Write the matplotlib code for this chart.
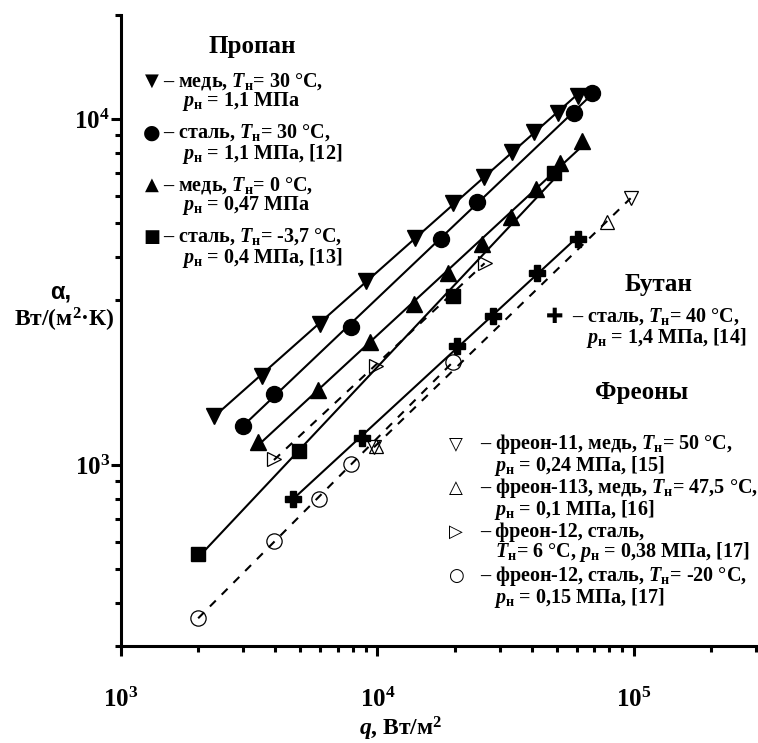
import numpy as np
import matplotlib.pyplot as plt
from matplotlib.ticker import FixedLocator, FixedFormatter, NullFormatter

plt.rcParams['font.family'] = ['Liberation Serif', 'DejaVu Sans']
plt.rcParams['font.weight'] = 'bold'
plt.rcParams['mathtext.fontset'] = 'custom'
plt.rcParams['mathtext.rm'] = 'Liberation Serif:bold'
plt.rcParams['mathtext.it'] = 'Liberation Serif:italic:bold'
plt.rcParams['mathtext.bf'] = 'Liberation Serif:bold'

# пропан, медь, Tн = 30 °C
q_cu30 = [2300, 3550, 6000, 9000, 14000, 19700, 26000, 33500, 41000, 50500, 60500]
a_cu30 = [1385, 1815, 2550, 3410, 4540, 5730, 6800, 8030, 9170, 10400, 11700]
# пропан, сталь, Tн = 30 °C
q_st30 = [3000, 3950, 7900, 17700, 24400, 58300, 68600]
a_st30 = [1300, 1610, 2500, 4510, 5760, 10400, 11900]
# пропан, медь, Tн = 0 °C
q_cu0 = [3420, 5860, 9350, 13900, 18800, 25500, 33100, 41500, 51400, 62700]
a_cu0 = [1170, 1650, 2270, 2930, 3600, 4360, 5220, 6280, 7470, 8640]
# пропан, сталь, Tн = -3,7 °C
q_st37 = [2000, 4950, 19700, 48700]
a_st37 = [553, 1095, 3090, 6990]
# бутан
q_but = [4690, 8700, 20400, 28200, 41900, 60500]
a_but = [800, 1200, 2210, 2700, 3600, 4510]
# фреоны
q_f11 = [9700, 97300]
a_f11 = [1130, 5920]
q_f113 = [9850, 78500]
a_f113 = [1135, 5050]
q_f12w = [3950, 9870, 26200]
a_f12w = [1040, 1930, 3850]
q_f12c = [2000, 3950, 5900, 7900, 19700]
a_f12c = [361, 603, 800, 1005, 1990]

W, H = 758, 743
fig = plt.figure(figsize=(W / 100, H / 100), dpi=100)
ax = fig.add_axes([121 / W, 1 - 646 / H, 635 / W, 631 / H])
ax.set_xscale('log')
ax.set_yscale('log')
ax.set_xlim(1e3, 3e5)
ax.set_ylim(300, 2e4)


def fit_line(q, a, ls):
    lq, la = np.log10(q), np.log10(a)
    k, b = np.polyfit(lq, la, 1)
    xs = np.array([lq.min(), lq.max()])
    ax.plot(10 ** xs, 10 ** (k * xs + b), color='black', lw=1.5, ls=ls, zorder=2)


dash = (0, (4, 4))
fit_line(q_cu30, a_cu30, '-')
fit_line(q_st30, a_st30, '-')
fit_line(q_cu0, a_cu0, '-')
fit_line(q_st37, a_st37, '-')
fit_line(q_but, a_but, '-')
fit_line(q_f11 + q_f113, a_f11 + a_f113, dash)
fit_line(q_f12w, a_f12w, dash)
fit_line(q_f12c, a_f12c, dash)

ax.plot(q_cu30, a_cu30, 'v', color='black', ms=11, ls='none', zorder=3)
ax.plot(q_st30, a_st30, 'o', color='black', ms=11.5, ls='none', zorder=3)
ax.plot(q_cu0, a_cu0, '^', color='black', ms=11, ls='none', zorder=3)
ax.plot(q_st37, a_st37, 's', color='black', ms=10, ls='none', zorder=3)
ax.plot(q_but, a_but, 'P', color='black', ms=12, ls='none', zorder=3)
ax.plot(q_f11, a_f11, 'v', mfc='none', mec='black', mew=0.9, ms=9.5, ls='none', zorder=3)
ax.plot(q_f113, a_f113, '^', mfc='none', mec='black', mew=0.9, ms=9.5, ls='none', zorder=3)
ax.plot(q_f12w, a_f12w, '>', mfc='none', mec='black', mew=0.9, ms=9.5, ls='none', zorder=3)
ax.plot(q_f12c, a_f12c, 'o', mfc='none', mec='black', mew=0.9, ms=11, ls='none', zorder=3)

for s in ['top', 'right']:
    ax.spines[s].set_visible(False)
for s in ['left', 'bottom']:
    ax.spines[s].set_linewidth(2.2)

ax.xaxis.set_major_locator(FixedLocator([1e3, 1e4, 1e5]))
ax.xaxis.set_major_formatter(FixedFormatter([r'$10^{3}$', r'$10^{4}$', r'$10^{5}$']))
ax.xaxis.set_minor_locator(FixedLocator([m * 10 ** e for e in (3, 4) for m in range(2, 10)] + [2e5, 3e5]))
ax.yaxis.set_major_locator(FixedLocator([1e3, 1e4]))
ax.yaxis.set_major_formatter(FixedFormatter([r'$10^{3}$', r'$10^{4}$']))
ax.yaxis.set_minor_locator(FixedLocator([m * 10 ** e for e in (2, 3) for m in range(3, 10)] + [2e4]))
ax.xaxis.set_minor_formatter(NullFormatter())
ax.yaxis.set_minor_formatter(NullFormatter())
ax.tick_params(which='major', direction='out', length=7, width=2.2, labelsize=18)
ax.tick_params(which='minor', direction='out', length=4, width=2.2)
ax.tick_params(axis='x', which='major', pad=23)
ax.tick_params(axis='y', which='major', pad=1)


def px(x, y):
    return x / W, 1 - y / H


fs = 14.5
sym = dict(family=['DejaVu Sans'], ha='center', va='center')
entry = dict(fontsize=fs, ha='left', va='center', linespacing=0.92)
Tn = '$T_{\\mathrm{н}}$'
pn = '$p_{\\mathrm{н}}$'

# пропан
fig.text(*px(252, 47), 'Пропан', fontsize=18, ha='center', va='center')
propane = [
    ('▼', 13, f'– медь, {Tn}= 30 °C,', f'{pn} = 1,1 МПа'),
    ('●', 14.5, f'– сталь, {Tn}= 30 °C,', f'{pn} = 1,1 МПа, [12]'),
    ('▲', 13, f'– медь, {Tn}= 0 °C,', f'{pn} = 0,47 МПа'),
    ('■', 13, f'– сталь, {Tn}= -3,7 °C,', f'{pn} = 0,4 МПа, [13]'),
]
for i, (m, ms, l1, l2) in enumerate(propane):
    y1 = 81 + 52 * i
    fig.text(*px(152, y1), m, fontsize=ms, **sym)
    fig.text(*px(163, y1 + 11), l1 + '\n    ' + l2, **entry)

# бутан
fig.text(*px(659, 285), 'Бутан', fontsize=18, ha='center', va='center')
fig.text(*px(555, 317), '✚', fontsize=15, **sym)
fig.text(*px(572, 328), f'– сталь, {Tn}= 40 °C,' + '\n   ' + f'{pn} = 1,4 МПа, [14]', **entry)

# фреоны
fig.text(*px(642, 393), 'Фреоны', fontsize=18, ha='center', va='center')
freons = [
    ('▽', f'– фреон-11, медь, {Tn}= 50 °C,', f'{pn} = 0,24 МПа, [15]'),
    ('△', f'– фреон-113, медь, {Tn}= 47,5 °C,', f'{pn} = 0,1 МПа, [16]'),
    ('▷', '– фреон-12, сталь,', f'{Tn}= 6 °C, {pn} = 0,38 МПа, [17]'),
    ('○', f'– фреон-12, сталь, {Tn}= -20 °C,', f'{pn} = 0,15 МПа, [17]'),
]
for i, (m, l1, l2) in enumerate(freons):
    y1 = 444 + 44 * i
    fig.text(*px(456, y1), m, fontsize=13, **sym)
    fig.text(*px(480, y1 + 11), l1 + '\n   ' + l2, **entry)

# подписи осей
fig.text(*px(61, 292), 'α,', fontsize=17, family=['Liberation Sans'], ha='center', va='center')
fig.text(*px(64, 320), 'Вт/(м$^{2}$·К)', fontsize=17, ha='center', va='center')
fig.text(*px(401, 729), '$q$, Вт/м$^{2}$', fontsize=17, ha='center', va='center')

fig.savefig('out.png', dpi=100)
